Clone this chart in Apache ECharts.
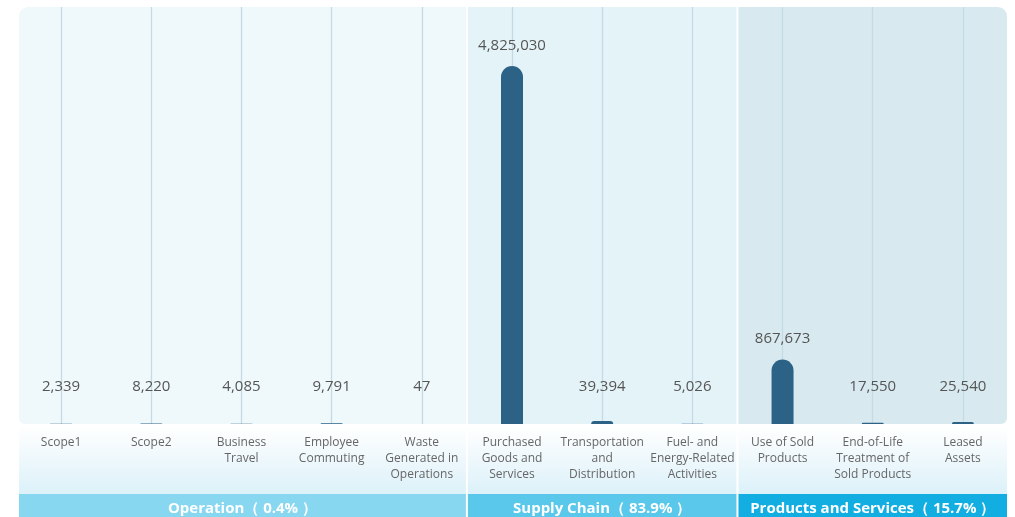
<!DOCTYPE html>
<html>
<head>
<meta charset="utf-8">
<script src="https://cdn.jsdelivr.net/npm/echarts@6/dist/echarts.min.js"></script>
<style>
html,body{margin:0;padding:0;background:#fff;}
#main{width:1015px;height:517px;}
</style>
</head>
<body>
<div id="main"></div>
<script>
var categories = [
  'Scope1', 'Scope2', 'Business\nTravel', 'Employee\nCommuting', 'Waste\nGenerated in\nOperations',
  'Purchased\nGoods and\nServices', 'Transportation\nand\nDistribution', 'Fuel- and\nEnergy-Related\nActivities',
  'Use of Sold\nProducts', 'End-of-Life\nTreatment of\nSold Products', 'Leased\nAssets'
];
var values = [2339, 8220, 4085, 9791, 47, 4825030, 39394, 5026, 867673, 17550, 25540];
var groupNames = ['Operation', 'Supply Chain', 'Products and Services'];
var groupShares = [0.4, 83.9, 15.7];
var groupFirst = [0, 5, 8];
var groupLast = [4, 7, 10];

var panelColors = ['#eff8fb', '#e4f3f8', '#d8eaf0'];
var stripColors = ['#88d7f1', '#5ac8ea', '#13aee1'];
var FONT = '"Open Sans", "Noto Sans", sans-serif';

var chart = echarts.init(document.getElementById('main'));

function renderGroup(params, api) {
  var i = params.dataIndex;
  var n = groupNames.length;
  var cs = params.coordSys;
  var band = api.coord([1, 0])[0] - api.coord([0, 0])[0];
  var x0 = api.coord([groupFirst[i], 0])[0] - band / 2;
  var x1 = api.coord([groupLast[i], 0])[0] + band / 2;
  var left = x0 + (i === 0 ? 3 : 1);
  var right = x1 - 1;
  var top = cs.y, bottom = cs.y + cs.height;
  var pr = i === 0 ? [9, 0, 0, 6] : (i === n - 1 ? [0, 9, 6, 0] : 0);
  var sr = i === 0 ? [0, 0, 0, 6] : (i === n - 1 ? [0, 0, 6, 0] : 0);
  var stripTop = bottom + 70;
  return {
    type: 'group',
    children: [
      { type: 'rect', shape: { x: left, y: top, width: right - left, height: bottom - top, r: pr },
        style: { fill: panelColors[i] } },
      { type: 'rect', shape: { x: left, y: bottom + 2, width: right - left, height: stripTop - bottom - 2 },
        style: { fill: new echarts.graphic.LinearGradient(0, 0, 0, 1, [
          { offset: 0, color: '#ffffff' }, { offset: 1, color: '#dcf1f9' }]) } },
      { type: 'rect', shape: { x: left, y: stripTop, width: right - left, height: 30, r: sr },
        style: { fill: stripColors[i] } },
      { type: 'text', x: (left + right) / 2, y: stripTop + 15,
        style: { text: groupNames[i] + '（ ' + groupShares[i] + '% ）', fill: '#ffffff',
          font: 'bold 15px ' + FONT, align: 'center', verticalAlign: 'middle' } }
    ]
  };
}

function barData(distances) {
  return values.map(function (v, i) {
    return { value: v, label: { distance: distances ? distances[i] : 14 } };
  });
}

var option = {
  animation: false,
  grid: { left: 16, right: 7, top: 7, bottom: 93, containLabel: false },
  xAxis: {
    type: 'category',
    data: categories,
    axisLine: { show: false },
    axisTick: { show: true, inside: true, alignWithLabel: true, length: 417,
      lineStyle: { color: '#c4dae4', width: 1.3 } },
    axisLabel: { interval: 0, color: '#666', fontSize: 12, lineHeight: 16, margin: 11,
      fontFamily: FONT, verticalAlign: 'top' },
    splitLine: { show: false }
  },
  yAxis: {
    type: 'value', min: 0, max: 5620000, show: false, splitLine: { show: false }
  },
  series: [
    {
      type: 'custom',
      z: -1,
      silent: true,
      clip: false,
      renderItem: renderGroup,
      encode: { x: 0, y: 1 },
      data: groupFirst.map(function (f) { return [f, 0]; })
    },
    {
      type: 'bar',
      barWidth: 22,
      itemStyle: { color: '#2c6285', borderRadius: [11, 11, 0, 0] },
      label: {
        show: true, position: 'top', color: '#555', fontSize: 15, fontFamily: FONT,
        formatter: function (p) { return p.value.toLocaleString('en-US'); }
      },
      data: barData(null)
    }
  ]
};
chart.setOption(option);

var distances = values.map(function (v, i) {
  var yTop = chart.convertToPixel({ gridIndex: 0 }, [i, v])[1];
  var yBase = chart.convertToPixel({ gridIndex: 0 }, [i, 0])[1];
  var h = yBase - yTop;
  return Math.max(13, 30 - h);
});
chart.setOption({ series: [{}, { data: barData(distances) }] });
</script>
</body>
</html>
